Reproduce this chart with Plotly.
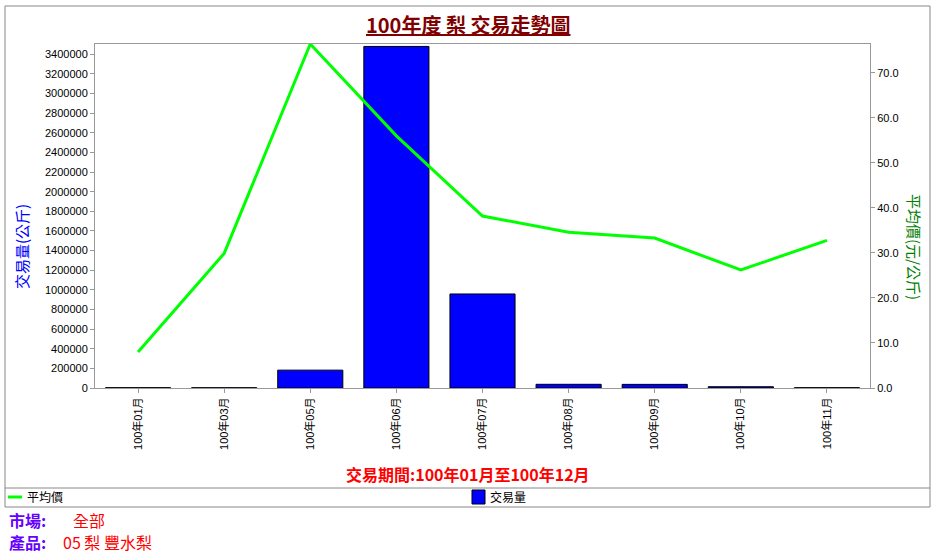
import plotly.graph_objects as go

# ---- data ----
months = ["100年01月", "100年03月", "100年05月", "100年06月", "100年07月",
          "100年08月", "100年09月", "100年10月", "100年11月"]
volume = [3000, 2500, 182000, 3480000, 958000, 37700, 37000, 13000, 3000]
avg_price = [8.0, 29.9, 76.4, 56.0, 38.2, 34.6, 33.3, 26.2, 32.8]
left_ticks = list(range(0, 3400001, 200000))
right_ticks = [0, 10, 20, 30, 40, 50, 60, 70]

W, H = 937, 557
L, R, T, B = 95, 870, 44, 388  # plot area in px


def px(x, y):
    return (x - L) / (R - L), (B - y) / (B - T)


FONT = "Liberation Sans, Arial, Noto Sans CJK TC, sans-serif"
CJK = "Noto Sans CJK TC, Liberation Sans, sans-serif"

fig = go.Figure()
fig.add_trace(go.Bar(
    x=months, y=volume, name="交易量",
    marker=dict(color="#0000FF", line=dict(color="#000000", width=1)),
    yaxis="y", showlegend=False,
))
fig.add_trace(go.Scatter(
    x=months, y=avg_price, name="平均價", mode="lines",
    line=dict(color="#00FF00", width=3),
    yaxis="y2", showlegend=False,
))

shapes = []
annotations = []

# outer frame and legend separator
x0, y0 = px(5, 6)
x1, y1 = px(930, 507)
shapes.append(dict(type="rect", xref="paper", yref="paper", x0=x0, y0=y1, x1=x1, y1=y0,
                   line=dict(color="#888888", width=1), layer="below"))
lx0, ly = px(5, 488)
shapes.append(dict(type="line", xref="paper", yref="paper", x0=x0, x1=x1, y0=ly, y1=ly,
                   line=dict(color="#888888", width=1)))

# legend symbols
a, b = px(8, 497)
c, _ = px(22, 497)
shapes.append(dict(type="line", xref="paper", yref="paper", x0=a, x1=c, y0=b, y1=b,
                   line=dict(color="#00FF00", width=3)))
a, b = px(472, 490)
c, d = px(485, 504)
shapes.append(dict(type="rect", xref="paper", yref="paper", x0=a, x1=c, y0=d, y1=b,
                   fillcolor="#0000FF", line=dict(color="#000000", width=1)))


def ann(text, x, y, size, color, xanchor="center", angle=0, bold=False, family=CJK):
    ax, ay = px(x, y)
    annotations.append(dict(
        text=("<b>%s</b>" % text) if bold else text,
        xref="paper", yref="paper", x=ax, y=ay, xanchor=xanchor, yanchor="middle",
        showarrow=False, textangle=angle,
        font=dict(size=size, color=color, family=family)))


ann("<u>100年度 梨 交易走勢圖</u>", 468, 25, 20, "#800000", bold=True)
ann("交易量(公斤)", 22, 247, 15, "#0000FF", angle=-90)
ann("平均價(元/公斤)", 914, 247, 15, "#008000", angle=90)
ann("交易期間:100年01月至100年12月", 468, 474, 16, "#FF0000", bold=True)
ann("平均價", 25, 497, 12, "#000000", xanchor="left")
ann("交易量", 488, 497, 12, "#000000", xanchor="left")
ann("市場:", 7, 520, 16, "#6600FF", xanchor="left", bold=True)
ann("全部", 71, 520, 16, "#FF0000", xanchor="left")
ann("產品:", 7, 542, 16, "#6600FF", xanchor="left", bold=True)
ann("05 梨 豐水梨", 61, 542, 16, "#FF0000", xanchor="left")

axis_common = dict(showgrid=False, zeroline=False, showline=True, linecolor="#999999",
                   linewidth=1, ticks="outside", ticklen=4, tickcolor="#999999",
                   tickfont=dict(size=11, color="#000000", family=FONT))

fig.update_layout(
    width=W, height=H,
    margin=dict(l=L, r=W - R, t=T, b=H - B, pad=0),
    paper_bgcolor="#FFFFFF", plot_bgcolor="#FFFFFF",
    bargap=0.244,
    xaxis=dict(type="category", tickangle=-90, mirror=True, **axis_common),
    yaxis=dict(range=[0, 3505000], tickvals=left_ticks,
               ticktext=[str(v) for v in left_ticks], mirror=False, **axis_common),
    yaxis2=dict(range=[0, 76.4], tickvals=right_ticks,
                ticktext=["%.1f" % v for v in right_ticks],
                overlaying="y", side="right", **axis_common),
    shapes=shapes, annotations=annotations, showlegend=False,
    font=dict(family=FONT),
)

fig.write_html("out.html", config={"displayModeBar": False},
               post_script="document.body.style.margin='0';document.body.style.overflow='hidden';")
